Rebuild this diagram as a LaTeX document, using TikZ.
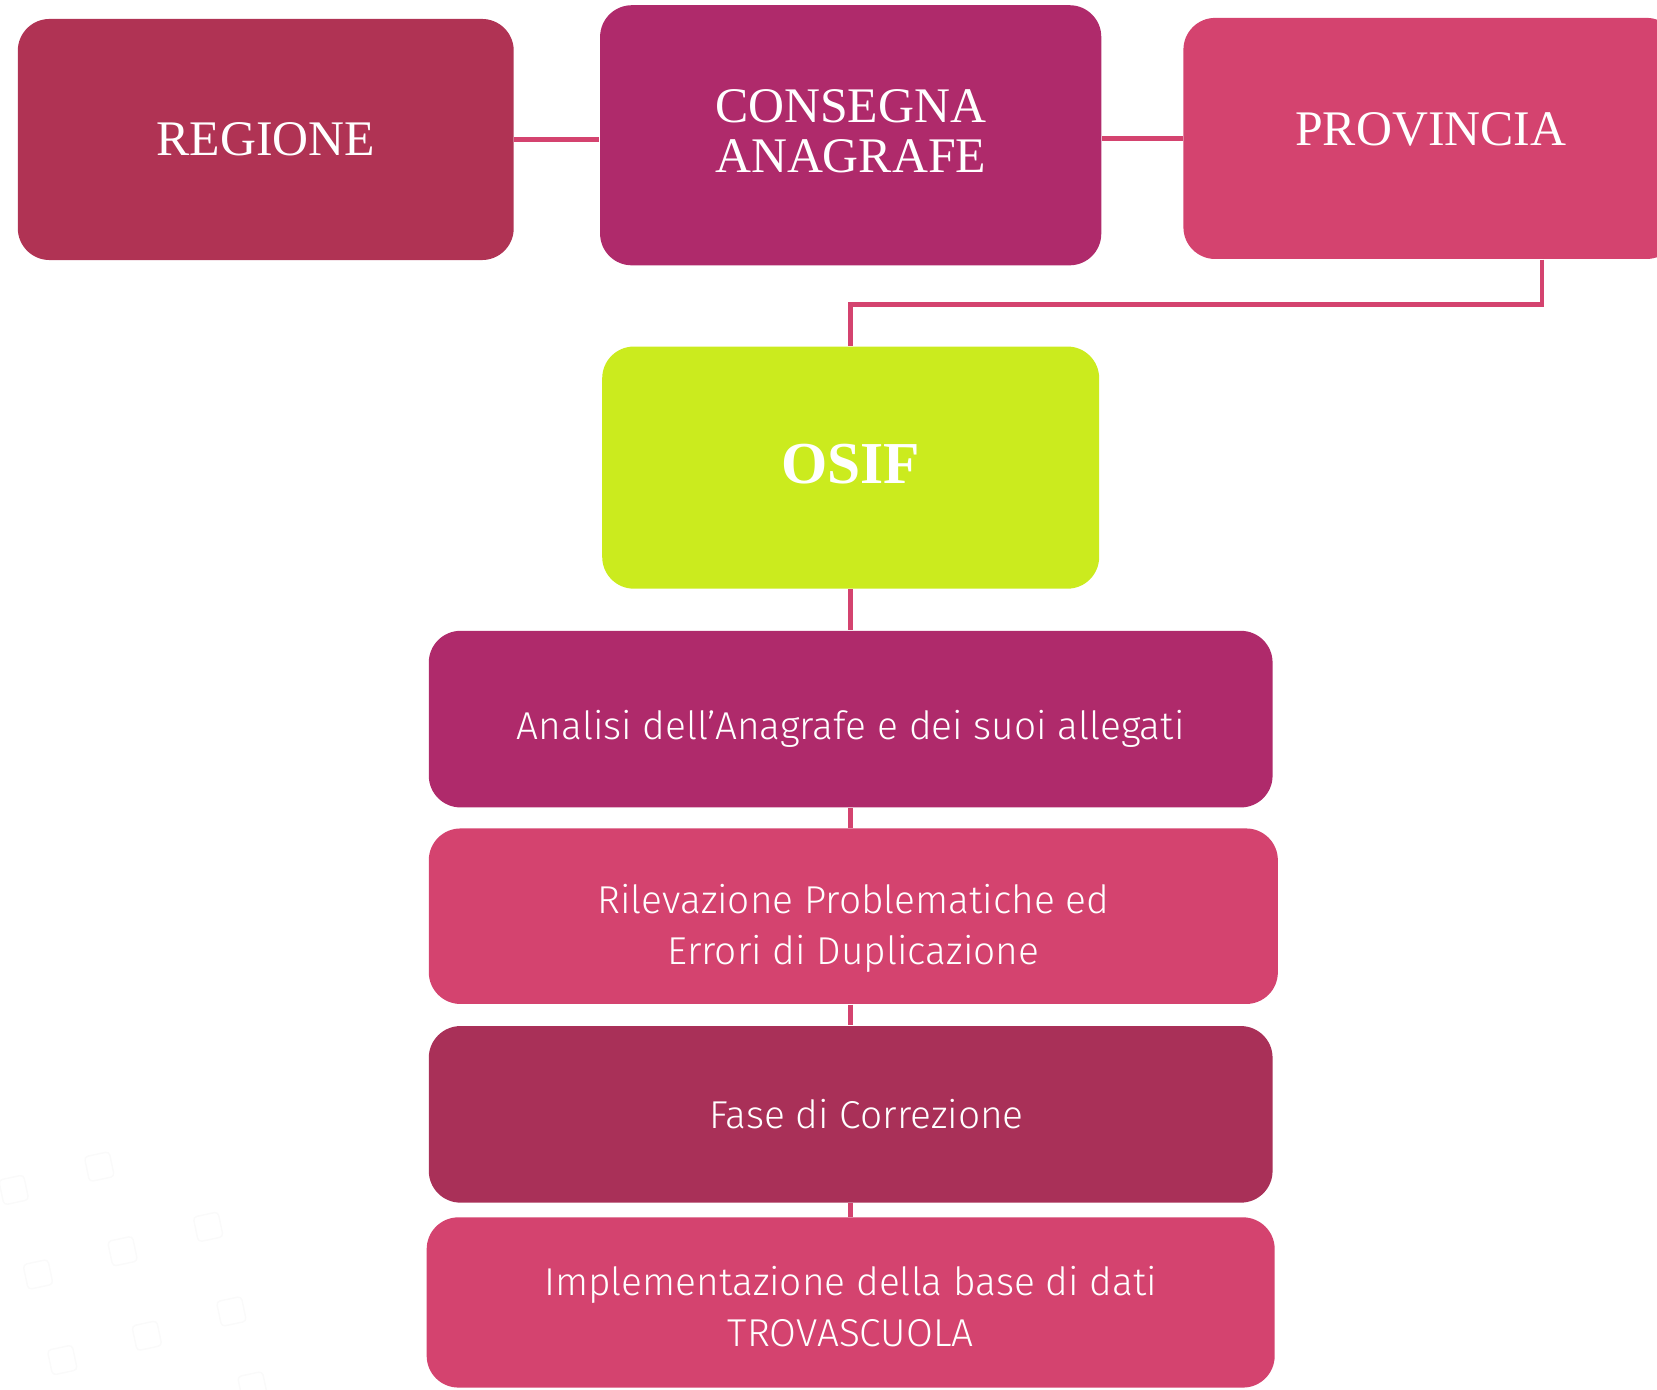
\documentclass[tikz,border=0pt]{standalone}
\usepackage{fontspec}
\setmainfont{Liberation Serif}
\newfontfamily\lightsans{Fira Sans Light}

\definecolor{regionered}{HTML}{B03354}
\definecolor{plum}{HTML}{AF2A6B}
\definecolor{rose}{HTML}{D4436F}
\definecolor{wine}{HTML}{A93058}
\definecolor{lime}{HTML}{CBEB1E}

\tikzset{
  box/.style={rounded corners=0.3cm, inner sep=0pt, align=center, text=white},
  capsbox/.style={box, font=\fontsize{13.4}{13.4}\selectfont},
  stepbox/.style={box, minimum height=1.67cm, font=\lightsans\fontsize{10.45}{13.7}\selectfont},
  link/.style={rose, line width=1.2pt}
}

\begin{document}
\begin{tikzpicture}[x=0.01cm, y=-0.01cm]
    \useasboundingbox (0,0) rectangle (1568,1315);
    \clip (0,0) rectangle (1568,1315);

    % faint squares in the corner
    \foreach \x/\y in {13/1126, 94/1104, 197/1161, 116/1184, 36/1206, 219/1241, 139/1264, 59/1287, 239/1312} {
        \draw[black!2, rounded corners=1pt, rotate around={12:(\x,\y)}] (\x-12,\y-12) rectangle (\x+12,\y+12);
    }

    % top row
    \node[capsbox, fill=regionered, minimum width=4.69cm, minimum height=2.28cm] (regione) at (251.5,132) {REGIONE};
    \node[capsbox, fill=plum, minimum width=4.74cm, minimum height=2.46cm] (consegna) at (805,128) {CONSEGNA\\ANAGRAFE\rule[-0.08cm]{0pt}{0.08cm}};
    \node[capsbox, fill=rose, minimum width=4.68cm, minimum height=2.28cm] (provincia) at (1354,131) {\raisebox{0.18cm}{PROVINCIA}};

    % OSIF
    \node[capsbox, fill=lime, minimum width=4.70cm, minimum height=2.29cm, font=\bfseries\fontsize{16}{16}\selectfont] (osif) at (805,442.5) {\raisebox{0.08cm}{OSIF}};

    % steps
    \node[stepbox, fill=plum, minimum width=7.98cm] (analisi) at (805,680.5) {\rule{0pt}{0.46cm}Analisi dell’Anagrafe e dei suoi allegati};
    \node[stepbox, fill=rose, minimum width=8.03cm, minimum height=1.66cm] (rilevazione) at (807.5,867) {\rule{0pt}{0.5cm}Rilevazione Problematiche ed\\Errori di Duplicazione};
    \node[stepbox, fill=wine, minimum width=7.98cm] (fase) at (805,1054.5) {\hspace*{0.3cm}Fase di Correzione};
    \node[stepbox, fill=rose, minimum width=8.02cm, minimum height=1.61cm] (implementazione) at (805,1232.5) {\rule{0pt}{0.36cm}Implementazione della base di dati\\TROVASCUOLA};

    % connectors
    \draw[link] (regione.east) -- (regione.east -| consegna.west);
    \draw[link] (provincia.west -| consegna.east) -- (provincia.west);
    \coordinate (turn) at (1459,288);
    \draw[link] (turn |- provincia.south) -- (turn) -- (turn -| osif.north) -- (osif.north);
    \draw[link] (osif.south) -- (analisi.north);
    \draw[link] (analisi.south) -- (analisi.south |- rilevazione.north);
    \draw[link] (rilevazione.south -| fase.north) -- (fase.north);
    \draw[link] (fase.south) -- (implementazione.north);
\end{tikzpicture}
\end{document}
